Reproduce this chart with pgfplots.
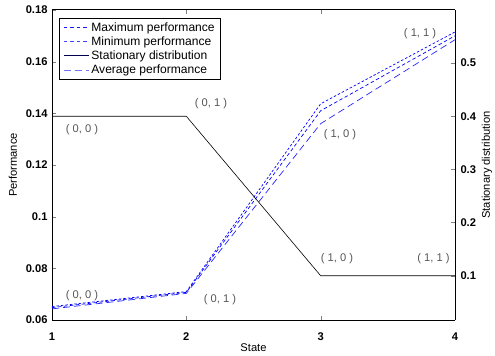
\documentclass[border=0pt]{standalone}
\usepackage{fontspec}
\setmainfont{Liberation Sans}
\usepackage{pgfplots}
\pgfplotsset{compat=1.18}
\definecolor{annot}{RGB}{85,85,85}
\definecolor{lgblue}{RGB}{20,20,255}
\newcommand{\fs}{\fontsize{11.2}{13}\selectfont}
\newcommand{\fl}{\fontsize{12.1}{13}\selectfont}
\begin{document}
\begin{tikzpicture}
\pgfplotsset{
  every axis/.append style={
    width=403bp, height=310bp, scale only axis,
    xmin=1, xmax=4,
    tick align=inside,
    major tick length=4bp,
    axis line style={line width=1pt},
    /pgf/number format/assume math mode=true,
    tick label style={font=\fs\bfseries},
  }
}
\begin{axis}[
  name=main,
  ymin=0.06, ymax=0.18,
  xtick={1,2,3,4},
  ytick={0.06,0.08,0.1,0.12,0.14,0.16,0.18},
  yticklabels={0.06,0.08,0.1,0.12,0.14,0.16,0.18},
  xticklabels={1,2,3,4},
  xticklabel style={anchor=north, yshift=-9bp},
  yticklabel style={anchor=east, xshift=-1bp},
  axis y line*=left,
  axis x line*=box,
  clip=false,
  legend style={at={(axis description cs:0.0174,0.974)}, anchor=north west,
    font=\fl, line width=0.6pt, row sep=0pt,
    inner xsep=4pt, inner ysep=2pt, cells={anchor=west}},
  legend cell align=left,
]
\addlegendimage{legend image code/.code={\draw[lgblue, dash pattern=on 3.5pt off 3pt, line width=1.2pt] (0cm,0cm) -- (0.88cm,0cm);}}
\addlegendentry{Maximum performance}
\addlegendimage{legend image code/.code={\draw[lgblue!80, dash pattern=on 3.5pt off 3pt, line width=1.2pt] (0cm,0cm) -- (0.88cm,0cm);}}
\addlegendentry{Minimum performance}
\addlegendimage{legend image code/.code={\draw[black!70!blue, solid, line width=1pt] (0cm,0cm) -- (0.88cm,0cm);}}
\addlegendentry{Stationary distribution}
\addlegendimage{legend image code/.code={\draw[blue!55, dash pattern=on 7pt off 4pt, line width=1pt] (0cm,0cm) -- (0.88cm,0cm);}}
\addlegendentry{Average performance}
\addplot[forget plot, blue, dash pattern=on 2.5pt off 2pt, line width=0.7pt] coordinates {(1,0.0652) (2,0.0710) (3,0.1437) (4,0.1715)};
\addplot[forget plot, blue, dash pattern=on 3.5pt off 2.5pt, line width=0.7pt] coordinates {(1,0.0648) (2,0.0707) (3,0.1410) (4,0.1700)};
\addplot[forget plot, blue!85, dash pattern=on 7pt off 4pt, line width=0.7pt] coordinates {(1,0.0643) (2,0.0703) (3,0.1360) (4,0.1685)};
\node[annot, font=\fs] at (axis cs:1.223,0.1338) {( 0, 0 )};
\node[annot, font=\fs] at (axis cs:1.223,0.0693) {( 0, 0 )};
\node[annot, font=\fs] at (axis cs:2.184,0.1436) {( 0, 1 )};
\node[annot, font=\fs] at (axis cs:2.25,0.0677) {( 0, 1 )};
\node[annot, font=\fs] at (axis cs:3.144,0.1316) {( 1, 0 )};
\node[annot, font=\fs] at (axis cs:3.122,0.0836) {( 1, 0 )};
\node[annot, font=\fs] at (axis cs:3.74,0.1707) {( 1, 1 )};
\node[annot, font=\fs] at (axis cs:3.84,0.0836) {( 1, 1 )};
\end{axis}
\begin{axis}[
  ymin=0.0167, ymax=0.6,
  axis y line*=right,
  axis x line=none,
  ytick={0.1,0.2,0.3,0.4,0.5},
  yticklabels={0.1,0.2,0.3,0.4,0.5},
  yticklabel style={anchor=west, xshift=2bp},
]
\addplot[black, solid, line width=0.6pt] coordinates {(1,0.4) (2,0.4) (3,0.1) (4,0.1)};
\end{axis}
\node[font=\fs] at ([yshift=-28bp]main.south) {State};
\node[font=\fs, rotate=90] at ([xshift=-39bp]main.west) {Performance};
\node[font=\fs, rotate=90] at ([xshift=32bp]main.east) {Stationary distribution};
\pgfresetboundingbox
\path[use as bounding box] ([shift={(-52bp,-36bp)}]main.south west) rectangle ([shift={(40bp,10bp)}]main.north east);
\end{tikzpicture}
\end{document}
